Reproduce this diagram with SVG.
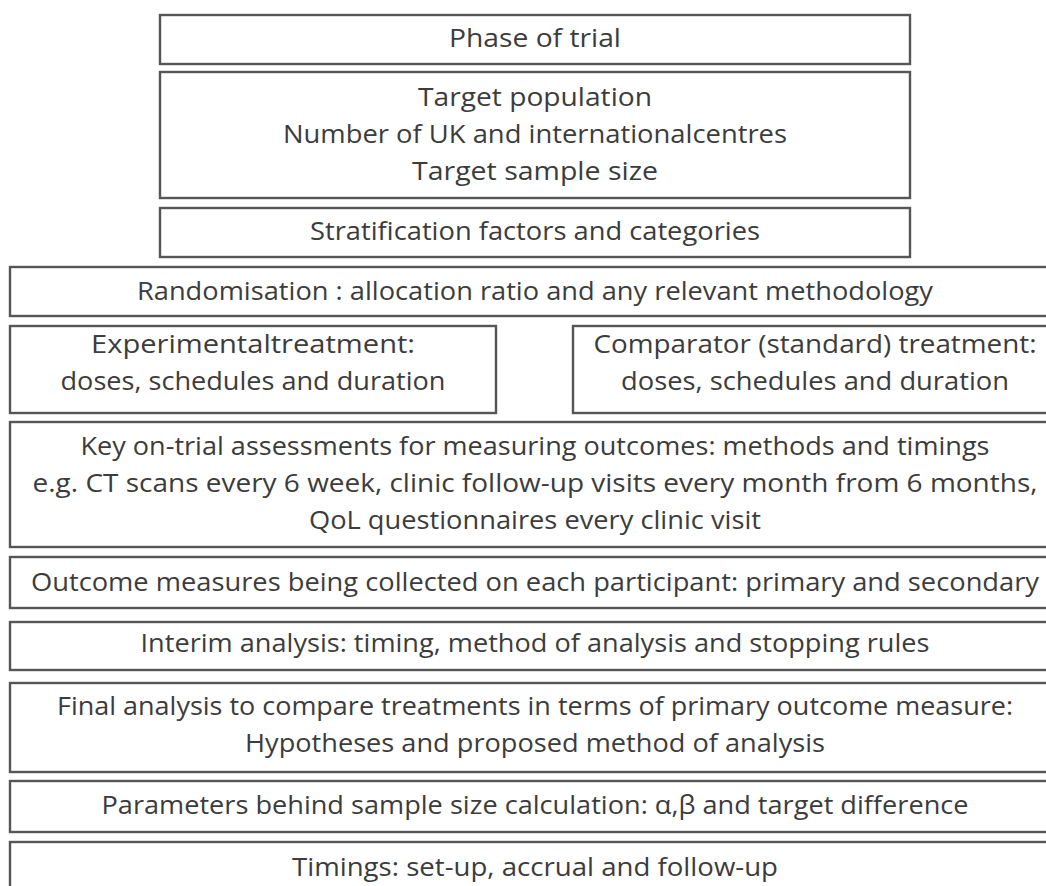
<svg xmlns="http://www.w3.org/2000/svg" width="1046" height="886" viewBox="0 0 1046 886">
<style>
.box{fill:#ffffff;stroke:#565656;stroke-width:2.4}
.t{font-family:"Open Sans","Liberation Sans",sans-serif;font-size:25px;fill:#3c3c3c;text-anchor:middle}
</style>
<rect x="0" y="0" width="1046" height="886" fill="#ffffff"/>
<g id="connectors"></g>
<g id="phase">
<rect class="box" x="160" y="15" width="750" height="49"/>
<text class="t" x="535" y="47" textLength="172" lengthAdjust="spacingAndGlyphs">Phase of trial</text>
</g>
<g id="target">
<rect class="box" x="160" y="72" width="750" height="126"/>
<text class="t" x="535" y="106" textLength="234" lengthAdjust="spacingAndGlyphs">Target population</text>
<text class="t" x="535" y="143" textLength="504" lengthAdjust="spacingAndGlyphs">Number of UK and internationalcentres</text>
<text class="t" x="535" y="180" textLength="246" lengthAdjust="spacingAndGlyphs">Target sample size</text>
</g>
<g id="stratification">
<rect class="box" x="160" y="208" width="750" height="49"/>
<text class="t" x="535" y="240" textLength="450" lengthAdjust="spacingAndGlyphs">Stratification factors and categories</text>
</g>
<g id="randomisation">
<rect class="box" x="10" y="267" width="1055" height="49"/>
<text class="t" x="535" y="300" textLength="796" lengthAdjust="spacingAndGlyphs">Randomisation : allocation ratio and any relevant methodology</text>
</g>
<g id="experimental">
<rect class="box" x="10" y="326" width="486" height="87"/>
<text class="t" x="253" y="353" textLength="324" lengthAdjust="spacingAndGlyphs">Experimentaltreatment:</text>
<text class="t" x="253" y="390" textLength="385" lengthAdjust="spacingAndGlyphs">doses, schedules and duration</text>
</g>
<g id="comparator">
<rect class="box" x="573" y="326" width="490" height="87"/>
<text class="t" x="815" y="353" textLength="443" lengthAdjust="spacingAndGlyphs">Comparator (standard) treatment:</text>
<text class="t" x="815" y="390" textLength="388" lengthAdjust="spacingAndGlyphs">doses, schedules and duration</text>
</g>
<g id="assessments">
<rect class="box" x="10" y="422" width="1055" height="125"/>
<text class="t" x="535" y="455" textLength="909" lengthAdjust="spacingAndGlyphs">Key on-trial assessments for measuring outcomes: methods and timings</text>
<text class="t" x="535" y="492" textLength="1005" lengthAdjust="spacingAndGlyphs">e.g. CT scans every 6 week, clinic follow-up visits every month from 6 months,</text>
<text class="t" x="535" y="529" textLength="452" lengthAdjust="spacingAndGlyphs">QoL questionnaires every clinic visit</text>
</g>
<g id="outcome">
<rect class="box" x="10" y="557" width="1055" height="51"/>
<text class="t" x="535" y="591" textLength="1008" lengthAdjust="spacingAndGlyphs">Outcome measures being collected on each participant: primary and secondary</text>
</g>
<g id="interim">
<rect class="box" x="10" y="622" width="1055" height="48"/>
<text class="t" x="535" y="652" textLength="789" lengthAdjust="spacingAndGlyphs">Interim analysis: timing, method of analysis and stopping rules</text>
</g>
<g id="final">
<rect class="box" x="10" y="683" width="1055" height="89"/>
<text class="t" x="535" y="715" textLength="956" lengthAdjust="spacingAndGlyphs">Final analysis to compare treatments in terms of primary outcome measure:</text>
<text class="t" x="535" y="752" textLength="580" lengthAdjust="spacingAndGlyphs">Hypotheses and proposed method of analysis</text>
</g>
<g id="parameters">
<rect class="box" x="10" y="781" width="1055" height="51"/>
<text class="t" x="535" y="814" textLength="867" lengthAdjust="spacingAndGlyphs">Parameters behind sample size calculation: α,β and target difference</text>
</g>
<g id="timings">
<rect class="box" x="10" y="842" width="1055" height="60"/>
<text class="t" x="535" y="876" textLength="486" lengthAdjust="spacingAndGlyphs">Timings: set-up, accrual and follow-up</text>
</g>
</svg>
